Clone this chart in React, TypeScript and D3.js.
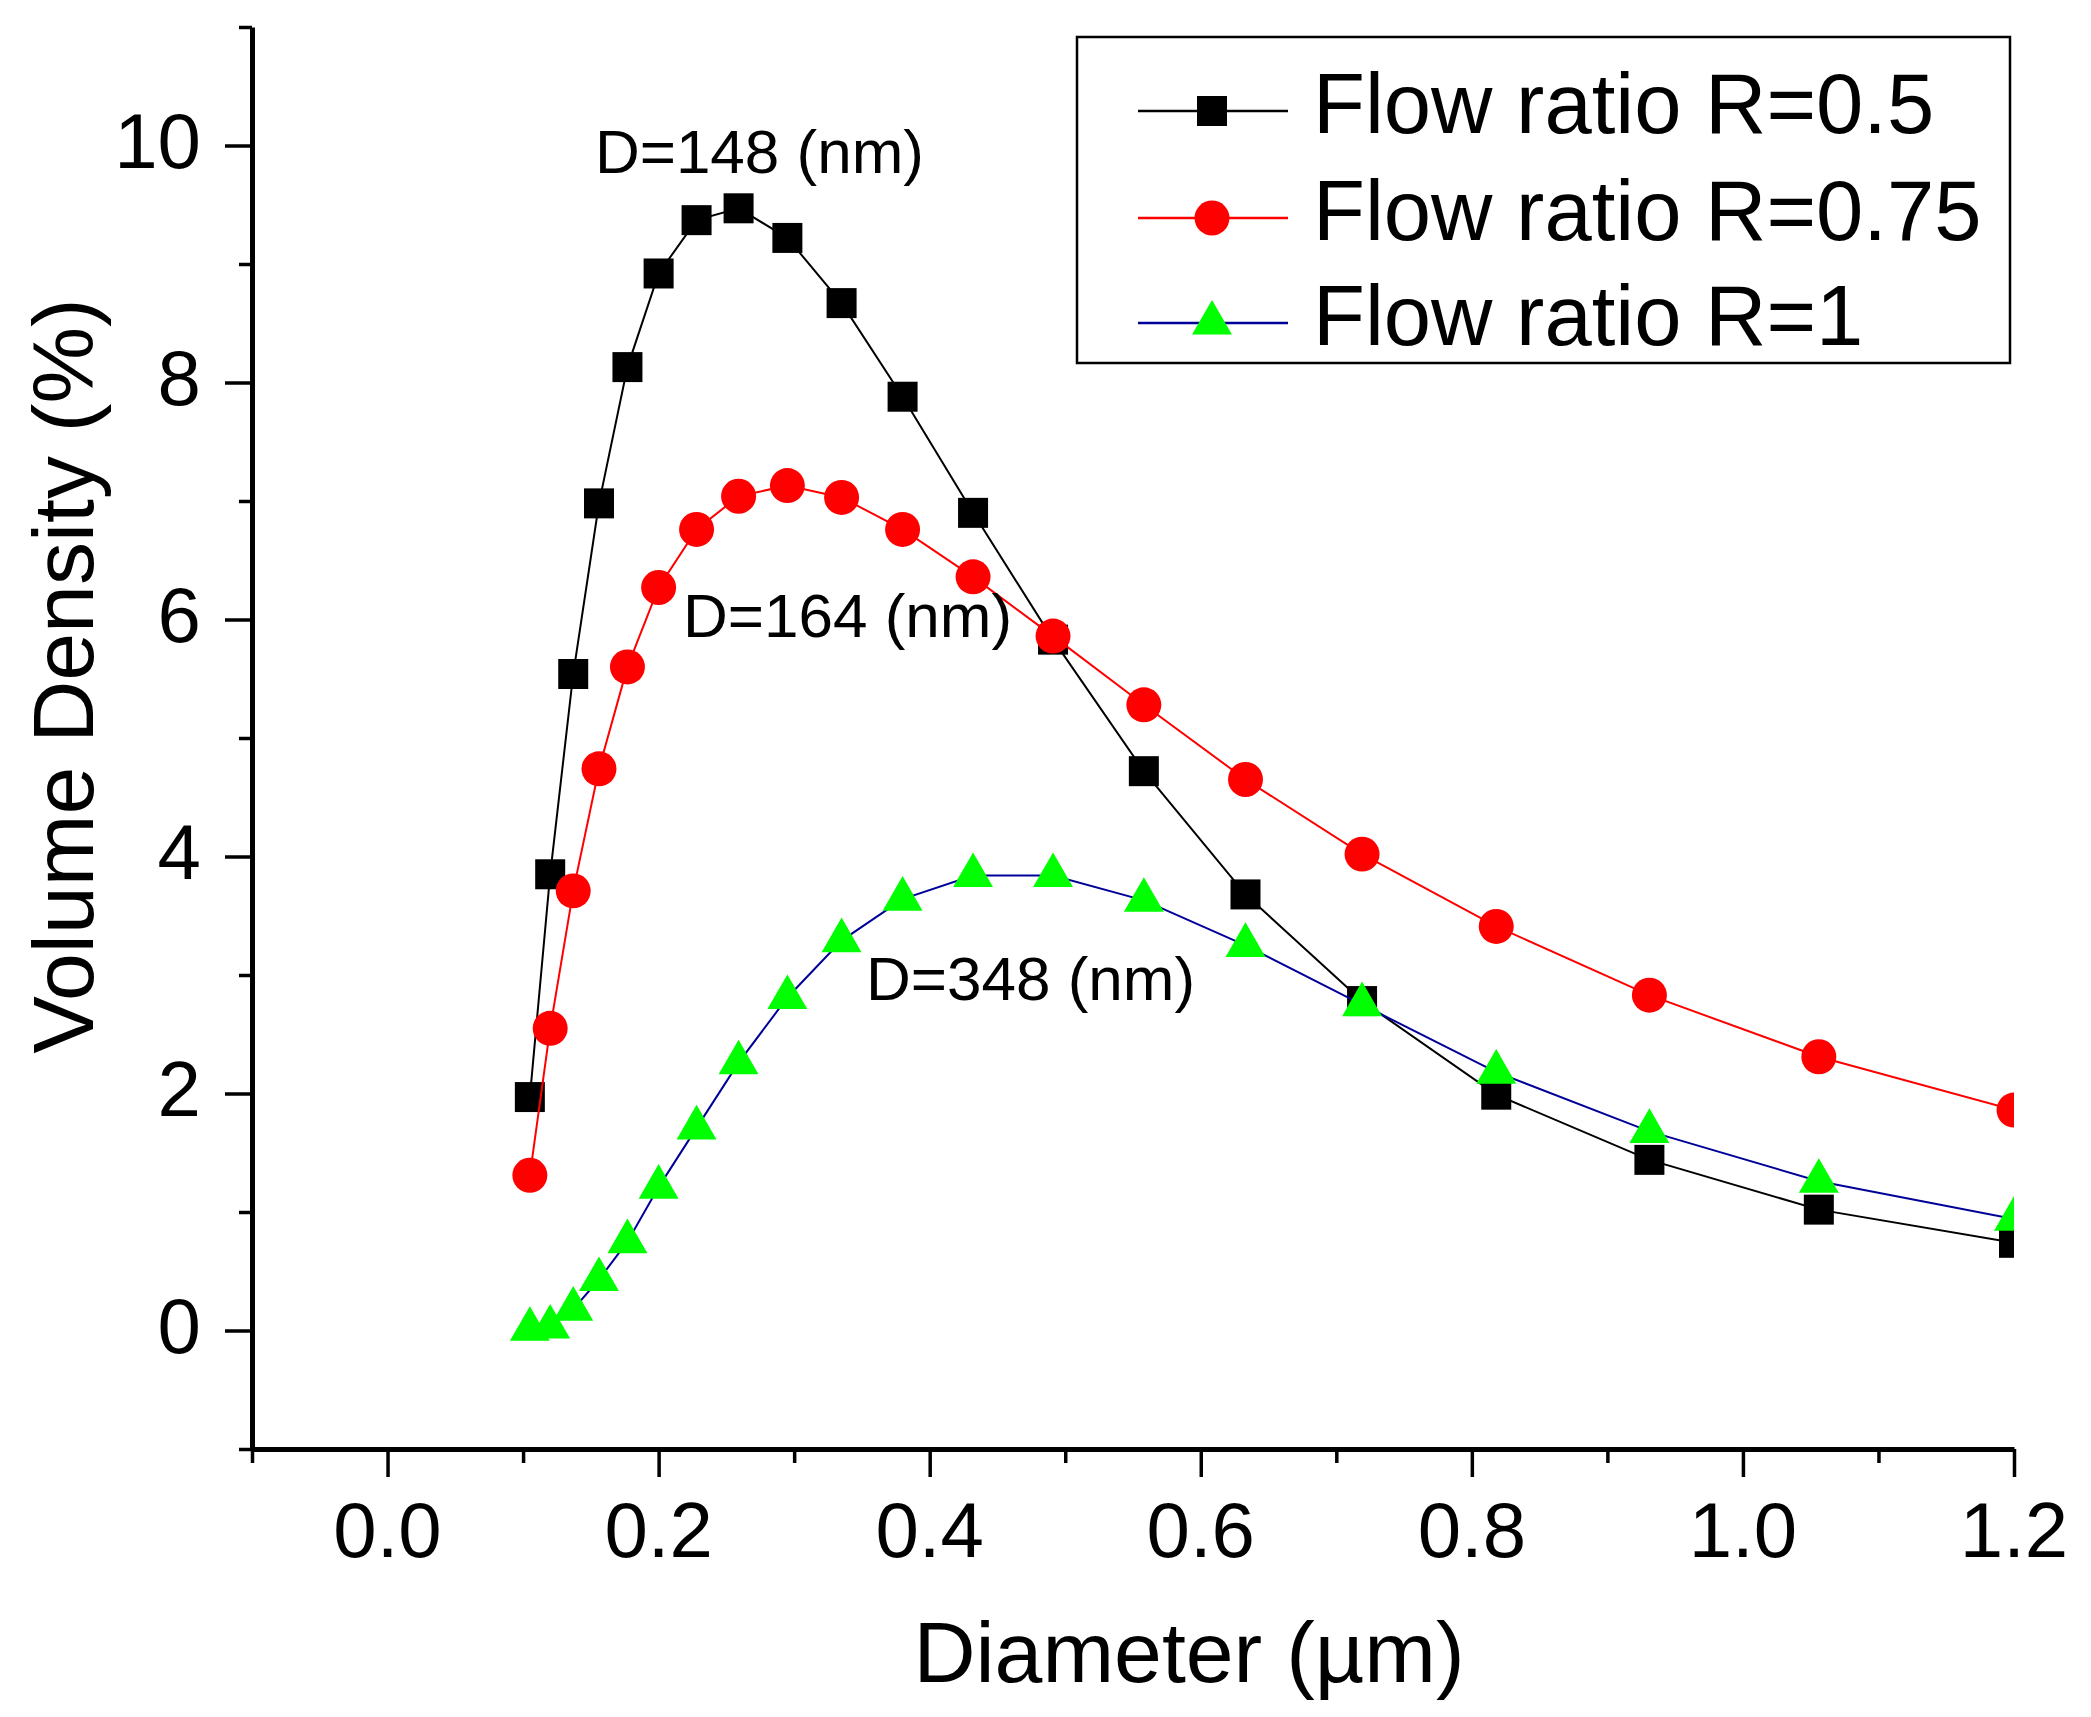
import { useEffect, useRef } from 'react';
import * as d3 from 'd3';

// diameter bins (µm), shared by all three runs
const diameters = [0.105, 0.120, 0.137, 0.156, 0.177, 0.200, 0.228, 0.259, 0.295, 0.335, 0.380, 0.432, 0.491, 0.558, 0.633, 0.719, 0.818, 0.931, 1.056, 1.2];

const densityR05 = [1.97, 3.85, 5.54, 6.98, 8.13, 8.92, 9.37, 9.47, 9.22, 8.67, 7.88, 6.90, 5.83, 4.72, 3.68, 2.78, 1.99, 1.44, 1.02, 0.74];
const densityR075 = [1.31, 2.55, 3.71, 4.74, 5.60, 6.27, 6.76, 7.04, 7.13, 7.03, 6.76, 6.36, 5.86, 5.28, 4.65, 4.02, 3.41, 2.83, 2.31, 1.86];
const densityR1 = [0.01, 0.03, 0.18, 0.43, 0.75, 1.21, 1.71, 2.26, 2.81, 3.29, 3.64, 3.84, 3.84, 3.63, 3.25, 2.75, 2.18, 1.68, 1.26, 0.94];

const seriesNames = ['Flow ratio R=0.5', 'Flow ratio R=0.75', 'Flow ratio R=1'];
const xTicks = [0.0, 0.2, 0.4, 0.6, 0.8, 1.0, 1.2];
const yTicks = [0, 2, 4, 6, 8, 10];

const annotations = [
  { text: 'D=148 (nm)', x: 0.153, y: 9.77 },
  { text: 'D=164 (nm)', x: 0.218, y: 5.85 },
  { text: 'D=348 (nm)', x: 0.353, y: 2.79 },
];

export default function App() {
  const svgRef = useRef<SVGSVGElement>(null);

  useEffect(() => {
    if (!svgRef.current) return;

    const width = 2091;
    const height = 1717;
    const margin = { top: 27, right: 77, bottom: 268, left: 252 };
    const font = '"Liberation Sans", Arial, sans-serif';

    const svg = d3.select(svgRef.current)
      .attr('width', width)
      .attr('height', height)
      .attr('viewBox', `0 0 ${width} ${height}`);

    svg.selectAll('*').remove();

    svg.append('rect').attr('width', width).attr('height', height).attr('fill', '#fff');

    const x = d3.scaleLinear()
      .domain([-0.1, 1.2])
      .range([margin.left, width - margin.right]);

    const y = d3.scaleLinear()
      .domain([-1, 11])
      .range([height - margin.bottom, margin.top]);

    svg.append('clipPath').attr('id', 'plot-clip')
      .append('rect')
      .attr('x', x(-0.1))
      .attr('y', y(11) - 40)
      .attr('width', x(1.2) - x(-0.1))
      .attr('height', y(-1) - y(11) + 40);

    // X axis
    const xAxis = d3.axisBottom(x)
      .tickValues(d3.range(-0.1, 1.2001, 0.1))
      .tickSize(0)
      .tickFormat(() => '');
    const gx = svg.append('g').attr('transform', `translate(0,${y(-1)})`).call(xAxis);
    gx.select('.domain').attr('stroke', '#000').attr('stroke-width', 5);
    gx.selectAll('.tick line')
      .attr('stroke', '#000')
      .attr('stroke-width', 3.5)
      .attr('y2', (_, i) => (i % 2 === 1 ? 28 : 14));

    svg.append('g').selectAll('text')
      .data(xTicks)
      .join('text')
      .attr('x', d => x(d))
      .attr('y', y(-1) + 108)
      .attr('text-anchor', 'middle')
      .attr('font-family', font)
      .attr('font-size', 78)
      .text(d => d.toFixed(1));

    // Y axis
    const yAxis = d3.axisLeft(y)
      .tickValues(d3.range(-1, 11.001, 1))
      .tickSize(0)
      .tickFormat(() => '');
    const gy = svg.append('g').attr('transform', `translate(${x(-0.1)},0)`).call(yAxis);
    gy.select('.domain').attr('stroke', '#000').attr('stroke-width', 5);
    gy.selectAll('.tick line')
      .attr('stroke', '#000')
      .attr('stroke-width', 3.5)
      .attr('x2', (_, i) => (i % 2 === 1 ? -27 : -13));

    svg.append('g').selectAll('text')
      .data(yTicks)
      .join('text')
      .attr('x', x(-0.1) - 51)
      .attr('y', d => y(d) + 22)
      .attr('text-anchor', 'end')
      .attr('font-family', font)
      .attr('font-size', 78)
      .text(d => d);

    // Axis titles
    svg.append('text')
      .attr('x', 1189)
      .attr('y', 1682)
      .attr('text-anchor', 'middle')
      .attr('font-family', font)
      .attr('font-size', 86)
      .text('Diameter (µm)');

    svg.append('text')
      .attr('transform', `translate(93,676) rotate(-90)`)
      .attr('text-anchor', 'middle')
      .attr('font-family', font)
      .attr('font-size', 86)
      .text('Volume Density (%)');

    // Series
    const series = [
      { name: seriesNames[0], values: densityR05, line: '#000000', fill: '#000000', symbol: d3.symbolSquare, size: 900 },
      { name: seriesNames[1], values: densityR075, line: '#ff0000', fill: '#ff0000', symbol: d3.symbolCircle, size: 960 },
      { name: seriesNames[2], values: densityR1, line: '#000099', fill: '#00ff00', symbol: d3.symbolTriangle, size: 690 },
    ];

    const line = d3.line<number>()
      .x((_, i) => x(diameters[i]))
      .y(d => y(d));

    const plot = svg.append('g').attr('clip-path', 'url(#plot-clip)');

    series.forEach(s => {
      plot.append('path')
        .datum(s.values)
        .attr('fill', 'none')
        .attr('stroke', s.line)
        .attr('stroke-width', 2)
        .attr('d', line);

      plot.append('g').selectAll('path')
        .data(s.values)
        .join('path')
        .attr('transform', (d, i) => `translate(${x(diameters[i])},${y(d)})`)
        .attr('d', d3.symbol().type(s.symbol).size(s.size)())
        .attr('fill', s.fill);
    });

    // Annotations
    svg.append('g').selectAll('text')
      .data(annotations)
      .join('text')
      .attr('x', d => x(d.x))
      .attr('y', d => y(d.y))
      .attr('font-family', font)
      .attr('font-size', 62)
      .text(d => d.text);

    // Legend
    const legend = svg.append('g');
    legend.append('rect')
      .attr('x', 1077)
      .attr('y', 37)
      .attr('width', 933)
      .attr('height', 326)
      .attr('fill', '#fff')
      .attr('stroke', '#000')
      .attr('stroke-width', 2.5);

    const rowY = [111, 218, 323];
    series.forEach((s, i) => {
      const row = legend.append('g').attr('transform', `translate(0,${rowY[i]})`);
      row.append('line')
        .attr('x1', 1138).attr('x2', 1288)
        .attr('stroke', s.line)
        .attr('stroke-width', 2.5);
      row.append('path')
        .attr('transform', 'translate(1212,0)')
        .attr('d', d3.symbol().type(s.symbol).size(s.size)())
        .attr('fill', s.fill);
      row.append('text')
        .attr('x', 1313)
        .attr('y', 22)
        .attr('font-family', font)
        .attr('font-size', 85)
        .text(s.name);
    });
  }, []);

  return (
    <svg ref={svgRef} style={{ position: 'absolute', left: 0, top: 0, display: 'block' }} />
  );
}
